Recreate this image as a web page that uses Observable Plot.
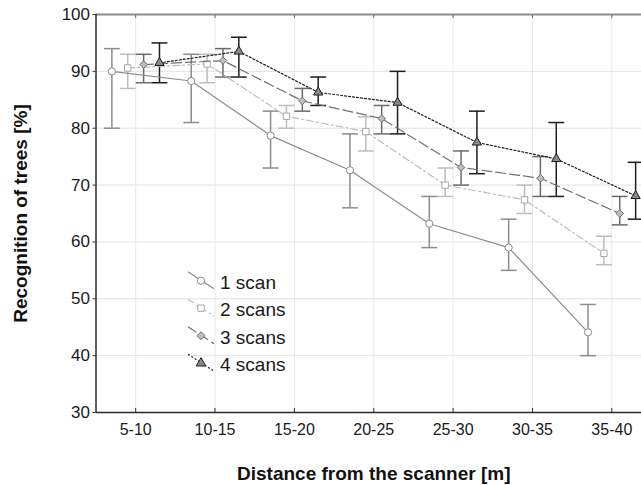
<!DOCTYPE html>
<html>
<head>
<meta charset="utf-8">
<script src="https://cdn.jsdelivr.net/npm/d3@7"></script>
<script src="https://cdn.jsdelivr.net/npm/@observablehq/plot@0.6"></script>
<style>
  html, body { margin: 0; padding: 0; background: #fff; overflow: hidden; width: 641px; height: 485px; }
  #chart { position: relative; width: 641px; height: 485px; overflow: hidden; }
  #chart svg { max-width: none !important; width: 656px !important; height: 485px !important; }
</style>
</head>
<body>
<div id="chart"></div>
<script>
// ---- data ----
const categories = ["5-10", "10-15", "15-20", "20-25", "25-30", "30-35", "35-40"];
const seriesNames = ["1 scan", "2 scans", "3 scans", "4 scans"];
const scan1 = [90.0, 88.3, 78.7, 72.6, 63.2, 59.0, 44.1];
const scan1Lo = [80, 81, 73, 66, 59, 55, 40];
const scan1Hi = [94, 93, 83, 79, 68, 64, 49];
const scan2 = [90.6, 91.3, 82.1, 79.4, 70.0, 67.4, 58.0];
const scan2Lo = [87, 88, 80, 76, 68, 65, 56];
const scan2Hi = [93, 93, 84, 82, 73, 70, 61];
const scan3 = [91.2, 91.9, 84.8, 81.7, 73.1, 71.2, 65.0];
const scan3Lo = [88, 89, 83, 79, 70, 68, 63];
const scan3Hi = [93, 94, 87, 84, 76, 75, 68];
const scan4 = [91.5, 93.5, 86.3, 84.5, 77.5, 74.6, 68.1];
const scan4Lo = [88, 89, 84, 79, 72, 68, 64];
const scan4Hi = [95, 96, 89, 90, 83, 81, 74];
const yTicks = [30, 40, 50, 60, 70, 80, 90, 100];

// ---- styles ----
const styles = [
  {stroke: "#8c8c8c", mark: "#8c8c8c", err: "#8c8c8c", dash: null, symbol: "circle", fill: "white", r: 3.6},
  {stroke: "#bdbdbd", mark: "#a8a8a8", err: "#bdbdbd", dash: "7,3,2,3", symbol: "square", fill: "white", r: 3.6},
  {stroke: "#707070", mark: "#707070", err: "#6a6a6a", dash: "10,4", symbol: "diamond2", fill: "#bdbdbd", r: 3.4},
  {stroke: "#1e1e1e", mark: "#1e1e1e", err: "#1e1e1e", dash: "2,2", symbol: "triangle", fill: "#8a8a8a", r: 3.4}
];

const vals = [scan1, scan2, scan3, scan4];
const los = [scan1Lo, scan2Lo, scan3Lo, scan4Lo];
const his = [scan1Hi, scan2Hi, scan3Hi, scan4Hi];

const SERIES_STEP = 0.2;   // horizontal spread of series within a category
const CAP = 0.1;           // half width of error-bar caps (x units)

const rows = [];
vals.forEach((arr, s) => {
  arr.forEach((v, i) => {
    rows.push({s, cat: categories[i], x: i + 1 + (s - 1.5) * SERIES_STEP, y: v, lo: los[s][i], hi: his[s][i]});
  });
});

const catIdx = categories.map((c, i) => i + 1);
const font = "'Liberation Sans', Arial, sans-serif";

const marks = [
  Plot.gridY(yTicks, {stroke: "#e2e2e2", strokeOpacity: 1}),
  Plot.gridX(catIdx, {stroke: "#e8e8e8", strokeOpacity: 1}),
  Plot.ruleY([100], {stroke: "#8a8a8a", strokeWidth: 2}),
  Plot.axisX(catIdx, {anchor: "top", tickSize: -3, tickFormat: () => "", label: null, stroke: "#666"}),
  Plot.axisX(catIdx, {anchor: "bottom", tickSize: -4, tickFormat: () => "", label: null, stroke: "#333"}),
  Plot.axisX(catIdx, {anchor: "bottom", tickSize: 0, tickPadding: 11, tickFormat: d => categories[d - 1], label: null, fontSize: 16, fill: "#1a1a1a"}),
  Plot.axisY(yTicks, {anchor: "left", tickSize: 3, tickPadding: 3, label: null, fontSize: 17, fill: "#1a1a1a", stroke: "#333"}),
  Plot.ruleY([30], {stroke: "#2a2a2a", strokeWidth: 1.5}),
  Plot.ruleX([0.5], {stroke: "#2a2a2a", strokeWidth: 1.5}),
];

styles.forEach((st, s) => {
  const d = rows.filter(r => r.s === s);
  marks.push(
    Plot.ruleX(d, {x: "x", y1: "lo", y2: "hi", stroke: st.err, strokeWidth: 1.5}),
    Plot.link(d, {x1: r => r.x - CAP, x2: r => r.x + CAP, y1: "lo", y2: "lo", stroke: st.err, strokeWidth: 1.5}),
    Plot.link(d, {x1: r => r.x - CAP, x2: r => r.x + CAP, y1: "hi", y2: "hi", stroke: st.err, strokeWidth: 1.5})
  );
});
styles.forEach((st, s) => {
  const d = rows.filter(r => r.s === s);
  marks.push(
    Plot.line(d, {x: "x", y: "y", stroke: st.stroke, strokeWidth: 1.2, strokeDasharray: st.dash}),
    Plot.dot(d, {x: "x", y: "y", symbol: () => st.symbol, r: st.r, stroke: st.mark, fill: st.fill, strokeWidth: 1})
  );
});

marks.push(
  Plot.text(["Recognition of trees [%]"], {frameAnchor: "left", textAnchor: "middle", lineAnchor: "middle", rotate: -90, dx: -75, fontSize: 19, fontWeight: "bold", fill: "#111"}),
  Plot.text(["Distance from the scanner [m]"], {frameAnchor: "bottom", textAnchor: "middle", lineAnchor: "middle", dy: 61, fontSize: 19, fontWeight: "bold", fill: "#111"})
);

const chart = Plot.plot({
  width: 656,
  height: 485,
  marginLeft: 95.5,
  marginRight: 5,
  marginTop: 14,
  marginBottom: 73,
  style: {fontFamily: font, background: "white", overflow: "visible"},
  x: {type: "linear", domain: [0.5, 7.5], axis: null},
  y: {type: "linear", domain: [30, 100], axis: null},
  marks
});
document.getElementById("chart").appendChild(chart);

// ---- legend (inside the plot, drawn in the same SVG) ----
const svg = d3.select(chart);
const leg = svg.append("g").attr("font-family", font).attr("font-size", 19).attr("text-anchor", "start");
const legX = 188, legY0 = 280.7, legStep = 27.5;
const symTypes = {circle: d3.symbolCircle, square: d3.symbolSquare, diamond2: d3.symbolDiamond2, triangle: d3.symbolTriangle};
seriesNames.forEach((name, s) => {
  const st = styles[s];
  const yc = legY0 + s * legStep;
  const g = leg.append("g");
  g.append("line").attr("x1", legX).attr("y1", yc - 9).attr("x2", legX + 26).attr("y2", yc + 8)
    .attr("stroke", st.stroke).attr("stroke-width", 1.2).attr("stroke-dasharray", st.dash);
  const sym = d3.symbol().type(symTypes[st.symbol]).size(40);
  g.append("path").attr("d", sym()).attr("transform", `translate(${legX + 13},${yc})`)
    .attr("fill", st.fill).attr("stroke", st.mark).attr("stroke-width", 1);
  g.append("text").attr("x", 220).attr("y", yc + 1.6).attr("dy", "0.35em").attr("text-anchor", "start").attr("fill", "#1a1a1a").text(name);
});
</script>
</body>
</html>
